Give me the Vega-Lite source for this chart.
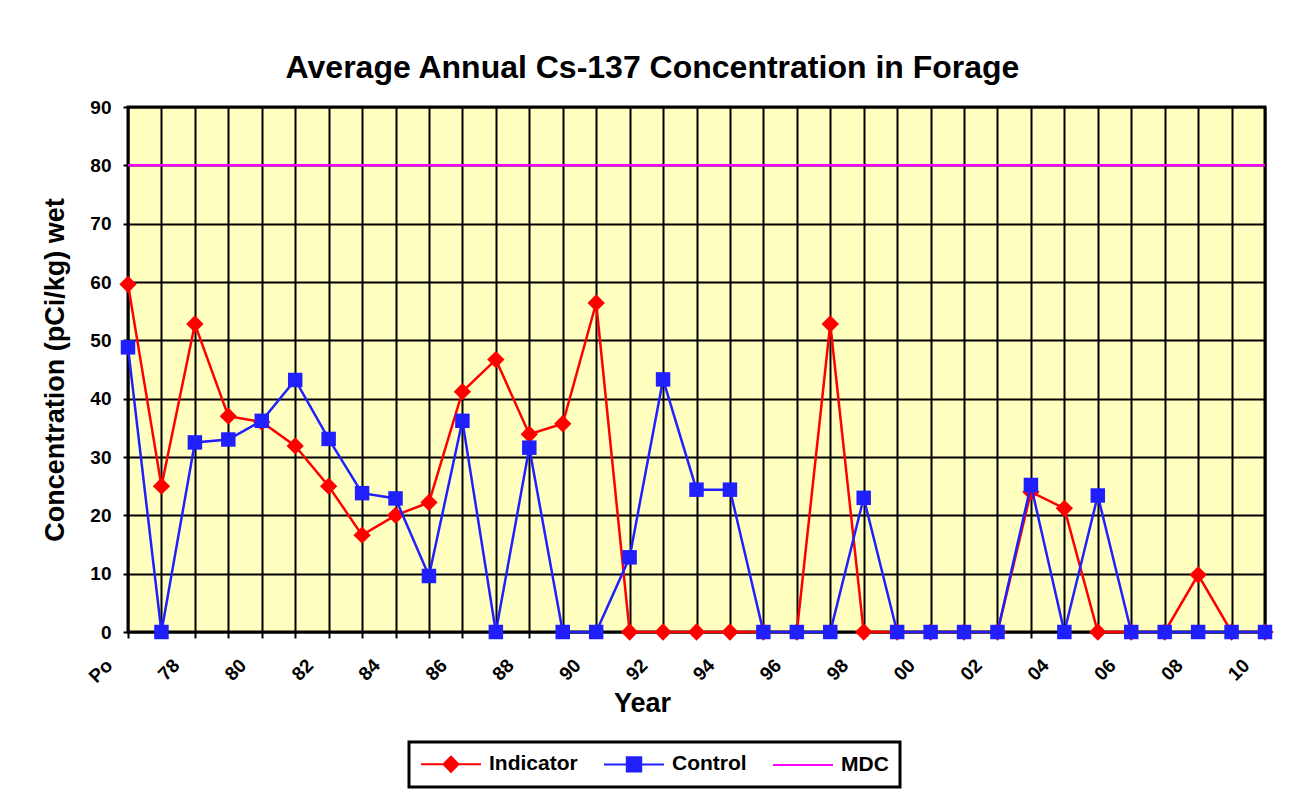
{
  "$schema": "https://vega.github.io/schema/vega-lite/v6.json",
  "width": 1137,
  "height": 525,
  "autosize": "none",
  "padding": {"left": 128, "top": 107, "right": 28, "bottom": 175},
  "background": "white",
  "title": {
    "text": "Average Annual Cs-137 Concentration in Forage",
    "font": "Liberation Sans",
    "fontSize": 32,
    "fontWeight": "bold",
    "color": "black",
    "anchor": "middle",
    "frame": "group",
    "baseline": "alphabetic",
    "offset": -12,
    "dx": -44
  },
  "config": {
    "view": {"fill": "#FFFFC0", "stroke": "black", "strokeWidth": 3},
    "font": "Liberation Sans"
  },
  "datasets": {
    "forage": [
      {"yr": "Po", "series": "Indicator", "value": 59.6},
      {"yr": "77", "series": "Indicator", "value": 25.0},
      {"yr": "78", "series": "Indicator", "value": 52.8},
      {"yr": "79", "series": "Indicator", "value": 37.0},
      {"yr": "80", "series": "Indicator", "value": 36.0},
      {"yr": "81", "series": "Indicator", "value": 31.9},
      {"yr": "82", "series": "Indicator", "value": 25.0},
      {"yr": "83", "series": "Indicator", "value": 16.6},
      {"yr": "84", "series": "Indicator", "value": 20.0},
      {"yr": "85", "series": "Indicator", "value": 22.2},
      {"yr": "86", "series": "Indicator", "value": 41.2},
      {"yr": "87", "series": "Indicator", "value": 46.7},
      {"yr": "88", "series": "Indicator", "value": 33.9},
      {"yr": "89", "series": "Indicator", "value": 35.7},
      {"yr": "90", "series": "Indicator", "value": 56.4},
      {"yr": "91", "series": "Indicator", "value": 0},
      {"yr": "92", "series": "Indicator", "value": 0},
      {"yr": "93", "series": "Indicator", "value": 0},
      {"yr": "94", "series": "Indicator", "value": 0},
      {"yr": "95", "series": "Indicator", "value": 0},
      {"yr": "96", "series": "Indicator", "value": 0},
      {"yr": "97", "series": "Indicator", "value": 52.8},
      {"yr": "98", "series": "Indicator", "value": 0},
      {"yr": "99", "series": "Indicator", "value": 0},
      {"yr": "00", "series": "Indicator", "value": 0},
      {"yr": "01", "series": "Indicator", "value": 0},
      {"yr": "02", "series": "Indicator", "value": 0},
      {"yr": "03", "series": "Indicator", "value": 24.0},
      {"yr": "04", "series": "Indicator", "value": 21.2},
      {"yr": "05", "series": "Indicator", "value": 0},
      {"yr": "06", "series": "Indicator", "value": 0},
      {"yr": "07", "series": "Indicator", "value": 0},
      {"yr": "08", "series": "Indicator", "value": 9.8},
      {"yr": "09", "series": "Indicator", "value": 0},
      {"yr": "10", "series": "Indicator", "value": 0},
      {"yr": "Po", "series": "Control", "value": 48.8},
      {"yr": "77", "series": "Control", "value": 0},
      {"yr": "78", "series": "Control", "value": 32.5},
      {"yr": "79", "series": "Control", "value": 33.0},
      {"yr": "80", "series": "Control", "value": 36.2},
      {"yr": "81", "series": "Control", "value": 43.2},
      {"yr": "82", "series": "Control", "value": 33.1},
      {"yr": "83", "series": "Control", "value": 23.8},
      {"yr": "84", "series": "Control", "value": 22.9},
      {"yr": "85", "series": "Control", "value": 9.6},
      {"yr": "86", "series": "Control", "value": 36.2},
      {"yr": "87", "series": "Control", "value": 0},
      {"yr": "88", "series": "Control", "value": 31.6},
      {"yr": "89", "series": "Control", "value": 0},
      {"yr": "90", "series": "Control", "value": 0},
      {"yr": "91", "series": "Control", "value": 12.8},
      {"yr": "92", "series": "Control", "value": 43.3},
      {"yr": "93", "series": "Control", "value": 24.4},
      {"yr": "94", "series": "Control", "value": 24.4},
      {"yr": "95", "series": "Control", "value": 0},
      {"yr": "96", "series": "Control", "value": 0},
      {"yr": "97", "series": "Control", "value": 0},
      {"yr": "98", "series": "Control", "value": 23.0},
      {"yr": "99", "series": "Control", "value": 0},
      {"yr": "00", "series": "Control", "value": 0},
      {"yr": "01", "series": "Control", "value": 0},
      {"yr": "02", "series": "Control", "value": 0},
      {"yr": "03", "series": "Control", "value": 25.2},
      {"yr": "04", "series": "Control", "value": 0},
      {"yr": "05", "series": "Control", "value": 23.4},
      {"yr": "06", "series": "Control", "value": 0},
      {"yr": "07", "series": "Control", "value": 0},
      {"yr": "08", "series": "Control", "value": 0},
      {"yr": "09", "series": "Control", "value": 0},
      {"yr": "10", "series": "Control", "value": 0}
    ],
    "mdc": [
      {"series": "MDC", "value": 80}
    ]
  },
  "data": {"name": "forage"},
  "layer": [
    {
      "transform": [{"filter": "datum.series == 'Indicator'"}],
      "mark": {"type": "line", "strokeWidth": 2.5},
      "encoding": {
        "x": {
          "field": "yr", "type": "ordinal",
          "sort": ["Po","77","78","79","80","81","82","83","84","85","86","87","88","89","90","91","92","93","94","95","96","97","98","99","00","01","02","03","04","05","06","07","08","09","10"],
          "scale": {"padding": 0},
          "axis": {
            "title": "Year",
            "titleFont": "Liberation Sans", "titleFontSize": 27, "titleFontWeight": "bold", "titleColor": "black",
            "titleX": 514, "titleY": 79, "titleBaseline": "alphabetic",
            "labelAngle": -45, "labelAlign": "right", "labelBaseline": "middle",
            "labelOffset": -19, "labelPadding": 24,
            "labelFont": "Liberation Sans", "labelFontSize": 19, "labelFontWeight": "bold", "labelColor": "black",
            "labelExpr": "datum.value == 'Po' || toNumber(datum.value) % 2 == 0 ? datum.label : ''",
            "grid": true, "gridColor": "black", "gridWidth": 2, "gridOpacity": 1,
            "domain": false,
            "ticks": true, "tickColor": "black", "tickWidth": 2, "tickSize": 6
          }
        },
        "y": {
          "field": "value", "type": "quantitative",
          "scale": {"domain": [0, 90], "nice": false},
          "axis": {
            "values": [0, 10, 20, 30, 40, 50, 60, 70, 80, 90],
            "title": "Concentration (pCi/kg) wet",
            "titleFont": "Liberation Sans", "titleFontSize": 27, "titleFontWeight": "bold", "titleColor": "black",
            "titlePadding": 20,
            "labelFont": "Liberation Sans", "labelFontSize": 19, "labelFontWeight": "bold", "labelColor": "black",
            "labelPadding": 12,
            "grid": true, "gridColor": "black", "gridWidth": 2, "gridOpacity": 1,
            "domain": false,
            "ticks": true, "tickColor": "black", "tickWidth": 2, "tickSize": 5
          }
        },
        "color": {
          "field": "series", "type": "nominal",
          "scale": {"domain": ["Indicator", "Control", "MDC"], "range": ["#FF0000", "#2020FF", "#FF00FF"]},
          "legend": {
            "orient": "none", "legendX": 281, "legendY": 635,
            "direction": "horizontal", "title": null,
            "strokeColor": "black", "fillColor": "white",
            "padding": 11,
            "labelFont": "Liberation Sans", "labelFontSize": 21, "labelFontWeight": "bold", "labelColor": "black",
            "labelOffset": 27, "columnPadding": 22,
            "symbolSize": 400, "symbolStrokeWidth": 2, "symbolOffset": 20,
            "encode": {
              "legend": {"update": {"strokeWidth": {"value": 3}}},
              "symbols": {
                "update": {
                  "shape": {"signal": "datum.value == 'Indicator' ? 'M-3,0L3,0M-0.75,0L0,-0.75L0.75,0L0,0.75Z' : datum.value == 'Control' ? 'M-3,0L3,0M-0.72,-0.72L0.72,-0.72L0.72,0.72L-0.72,0.72Z' : 'M-3,0L3,0'"},
                  "fill": {"signal": "scale('color', datum.value)"},
                  "stroke": {"signal": "scale('color', datum.value)"},
                  "strokeWidth": {"value": 2},
                  "opacity": {"value": 1},
                  "fillOpacity": {"value": 1},
                  "size": {"value": 400}
                }
              }
            }
          }
        },
        "order": {"value": null}
      }
    },
    {
      "transform": [{"filter": "datum.series == 'Indicator'"}],
      "mark": {"type": "point", "shape": "diamond", "filled": true, "size": 300, "opacity": 1},
      "encoding": {
        "x": {"field": "yr", "type": "ordinal", "sort": ["Po","77","78","79","80","81","82","83","84","85","86","87","88","89","90","91","92","93","94","95","96","97","98","99","00","01","02","03","04","05","06","07","08","09","10"]},
        "y": {"field": "value", "type": "quantitative"},
        "color": {"field": "series", "type": "nominal"}
      }
    },
    {
      "transform": [{"filter": "datum.series == 'Control'"}],
      "mark": {"type": "line", "strokeWidth": 2.5},
      "encoding": {
        "x": {"field": "yr", "type": "ordinal", "sort": ["Po","77","78","79","80","81","82","83","84","85","86","87","88","89","90","91","92","93","94","95","96","97","98","99","00","01","02","03","04","05","06","07","08","09","10"]},
        "y": {"field": "value", "type": "quantitative"},
        "color": {"field": "series", "type": "nominal"},
        "order": {"value": null}
      }
    },
    {
      "transform": [{"filter": "datum.series == 'Control'"}],
      "mark": {"type": "point", "shape": "square", "filled": true, "size": 210, "opacity": 1},
      "encoding": {
        "x": {"field": "yr", "type": "ordinal", "sort": ["Po","77","78","79","80","81","82","83","84","85","86","87","88","89","90","91","92","93","94","95","96","97","98","99","00","01","02","03","04","05","06","07","08","09","10"]},
        "y": {"field": "value", "type": "quantitative"},
        "color": {"field": "series", "type": "nominal"}
      }
    },
    {
      "data": {"name": "mdc"},
      "mark": {"type": "rule", "strokeWidth": 2.5},
      "encoding": {
        "y": {"field": "value", "type": "quantitative"},
        "color": {"field": "series", "type": "nominal"}
      }
    }
  ]
}
